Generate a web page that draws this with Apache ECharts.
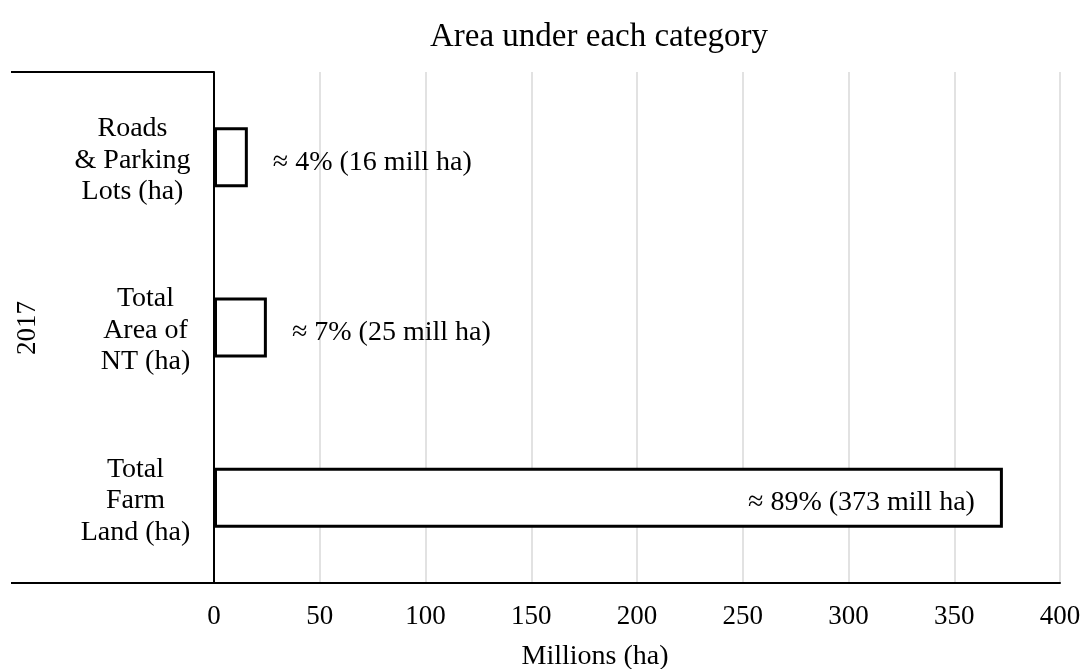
<!DOCTYPE html>
<html><head><meta charset="utf-8">
<script src="https://cdn.jsdelivr.net/npm/echarts@6/dist/echarts.min.js"></script>
<style>html,body{margin:0;padding:0;background:#fff}#c{width:1087px;height:669px}</style>
</head><body><div id="c"></div>
<script>
const categories = ['Roads\n& Parking\nLots (ha)', 'Total\nArea of\nNT (ha)', 'Total\nFarm\nLand (ha)'];
const values = [16, 25, 373];
const shares = ['4%', '7%', '89%'];
const groupLabel = '2017';
const xTicks = [0, 50, 100, 150, 200, 250, 300, 350, 400];
const FONT = '"Liberation Serif", "Times New Roman", serif';
const CAT_SIZE = 28;

// measure each category block so lines are centred inside a right-aligned block
const ctx = document.createElement('canvas').getContext('2d');
ctx.font = CAT_SIZE + 'px "Liberation Serif"';
const rich = {};
categories.forEach((c, i) => {
  const w = Math.max(...c.split('\n').map(l => ctx.measureText(l).width));
  rich['c' + i] = {width: Math.ceil(w) + 1, align: 'center', fontFamily: FONT, fontSize: CAT_SIZE, lineHeight: 31.5, color: '#000'};
});

const chart = echarts.init(document.getElementById('c'));
const data = values.map((v, i) => ({
  value: v,
  label: i === 2 ? {position: 'insideRight', distance: 28} : {position: 'right', distance: 25}
}));
chart.setOption({
  animation: false,
  title: {
    text: 'Area under each category', left: 425, top: 16,
    textStyle: {fontFamily: FONT, fontSize: 33, fontWeight: 'normal', color: '#000'}
  },
  grid: {left: 214, right: 27, top: 72, bottom: 86, containLabel: false, outerBoundsMode: 'none'},
  xAxis: {
    type: 'value', min: xTicks[0], max: xTicks[xTicks.length - 1], interval: 50,
    name: 'Millions (ha)', nameLocation: 'middle', nameGap: 60,
    nameTextStyle: {fontFamily: FONT, fontSize: 28, color: '#000', padding: [0, 84, 0, 0]},
    axisLine: {show: true, lineStyle: {color: '#000', width: 2}},
    axisTick: {show: false},
    axisLabel: {fontFamily: FONT, fontSize: 27, color: '#000', margin: 20},
    splitLine: {show: true, lineStyle: {color: '#d9d9d9', width: 1.5}}
  },
  yAxis: {
    type: 'category', inverse: true, data: categories,
    axisLine: {show: true, lineStyle: {color: '#000', width: 2}},
    axisTick: {show: false},
    axisLabel: {
      align: 'right', margin: 23, padding: [6, 0, 0, 0], rich: rich,
      formatter: (v, i) => v.split('\n').map(l => '{c' + i + '|' + l + '}').join('\n')
    }
  },
  graphic: [
    {type: 'line', shape: {x1: 11, y1: 72, x2: 214, y2: 72}, style: {stroke: '#000', lineWidth: 2}},
    {type: 'line', shape: {x1: 11, y1: 583, x2: 214, y2: 583}, style: {stroke: '#000', lineWidth: 2}},
    {type: 'text', x: 28, y: 328, rotation: Math.PI / 2,
     style: {text: groupLabel, fontFamily: FONT, fontSize: 27, fill: '#000', textAlign: 'center', textVerticalAlign: 'middle'}}
  ],
  series: [{
    type: 'bar', data: data, barWidth: 60,
    itemStyle: {color: '#fff', borderColor: '#000', borderWidth: 3},
    label: {
      show: true, fontFamily: FONT, fontSize: 28, color: '#000', offset: [0, 5],
      formatter: p => '\u2248 ' + shares[p.dataIndex] + ' (' + p.value + ' mill ha)'
    }
  }]
});
</script></body></html>
